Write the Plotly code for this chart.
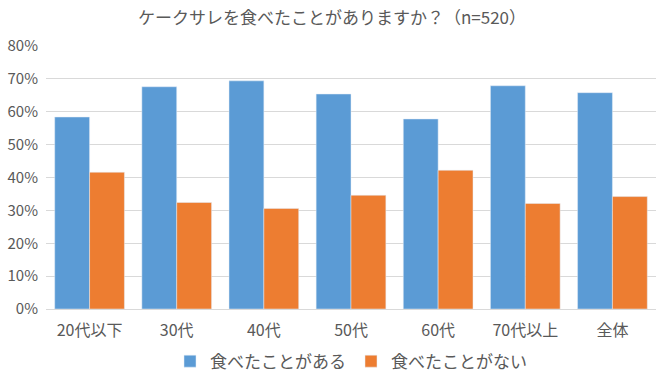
import plotly.graph_objects as go

categories = ["20代以下", "30代", "40代", "50代", "60代", "70代以上", "全体"]
eaten = [0.584, 0.676, 0.694, 0.654, 0.578, 0.679, 0.658]
not_eaten = [0.416, 0.324, 0.306, 0.346, 0.422, 0.321, 0.342]
series_names = ["食べたことがある", "食べたことがない"]

font_family = "Noto Sans CJK JP, Noto Sans, sans-serif"
text_color = "#595959"

fig = go.Figure()
fig.add_trace(go.Bar(x=categories, y=eaten, name=series_names[0], marker_color="#5b9bd5"))
fig.add_trace(go.Bar(x=categories, y=not_eaten, name=series_names[1], marker_color="#ed7d31"))

fig.update_layout(
    width=664, height=386,
    margin=dict(l=46, r=8, t=46, b=77, autoexpand=False),
    paper_bgcolor="white", plot_bgcolor="white",
    barmode="group", bargap=0.2, bargroupgap=0,
    font=dict(family=font_family, color=text_color, size=14),
    title=dict(text="ケークサレを食べたことがありますか？（n=520）", x=0.5, xanchor="center",
               y=0.953, yanchor="middle", font=dict(size=17, color=text_color)),
    legend=dict(orientation="h", x=0.5, xanchor="center", y=-0.2, yanchor="middle",
                font=dict(size=17, color=text_color), itemwidth=30, traceorder="normal"),
    showlegend=True,
)
fig.update_yaxes(range=[0, 0.8], dtick=0.1, tickformat=".0%", showgrid=True,
                 gridcolor="#d9d9d9", gridwidth=1, zeroline=False, showline=False,
                 ticks="", ticklabelstandoff=7, tickfont=dict(size=15), automargin=False)
fig.update_xaxes(showline=True, linecolor="#d9d9d9", linewidth=1, ticks="",
                 tickfont=dict(size=16), automargin=False, ticklabelstandoff=7)

fig.write_html("out.html", config={"displayModeBar": False},
               post_script="document.body.style.margin='0';document.body.style.overflow='hidden';")
